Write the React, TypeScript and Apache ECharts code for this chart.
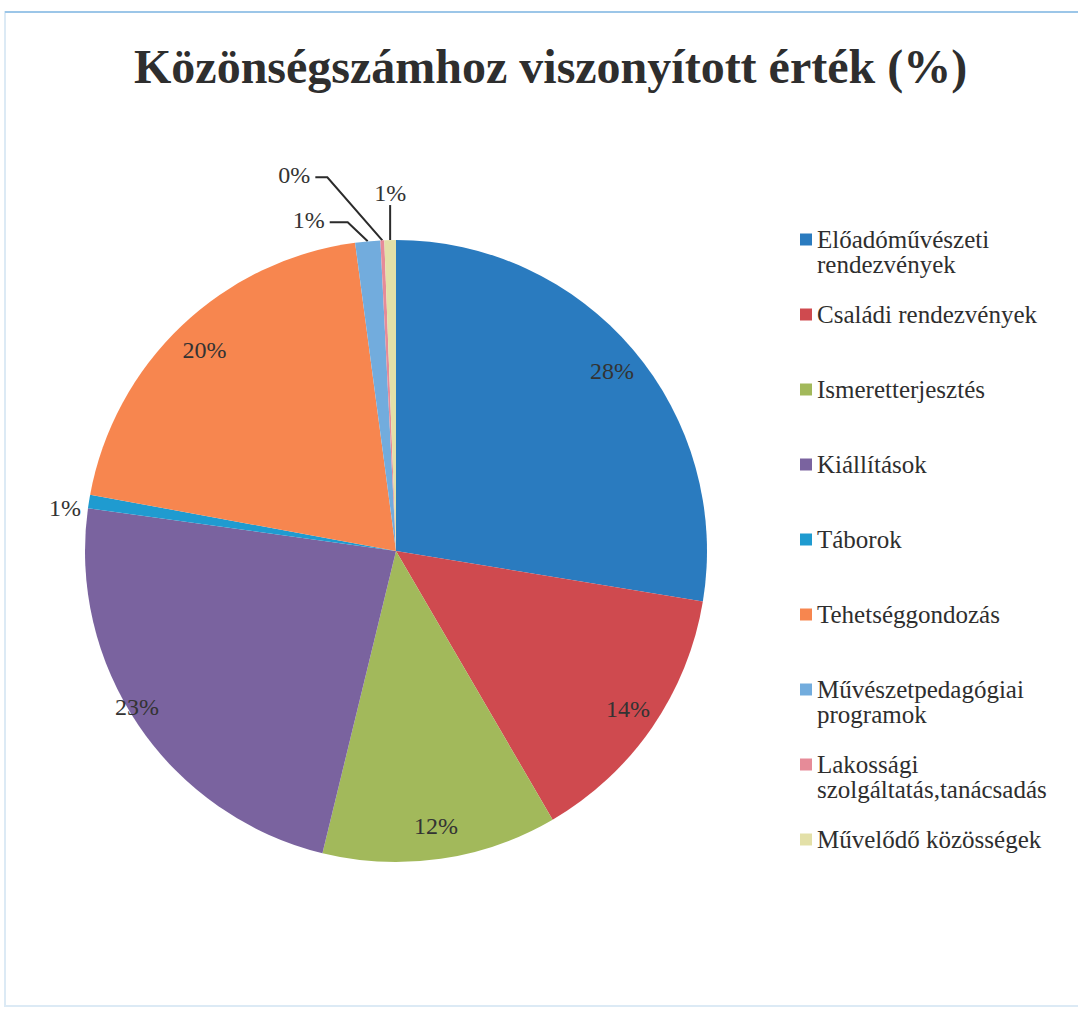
import React, { useEffect, useRef } from 'react';
import * as echarts from 'echarts';

const titleText = 'Közönségszámhoz viszonyított érték (%)';
const categories = [
  'Előadóművészeti rendezvények',
  'Családi rendezvények',
  'Ismeretterjesztés',
  'Kiállítások',
  'Táborok',
  'Tehetséggondozás',
  'Művészetpedagógiai programok',
  'Lakossági szolgáltatás,tanácsadás',
  'Művelődő közösségek',
];
const values = [27.6, 14.0, 12.2, 23.4, 0.7, 20.0, 1.3, 0.2, 0.6];
const colors = ['#2A7BBF', '#CF4A4F', '#A2B95B', '#7A639F', '#1F9BD0', '#F7864F', '#72ACDD', '#E68B98', '#E3E0A8'];
const insideLabel = [true, true, true, true, false, true, false, false, false];

const FONT = '"Liberation Serif", "Times New Roman", serif';
const CENTER = [396, 551];
const R = 311;

export default function App() {
  const ref = useRef<HTMLDivElement>(null);
  useEffect(() => {
    document.body.style.margin = '0';
    const chart = echarts.init(ref.current!, null, { renderer: 'svg' });
    const fmt = (p: any) => Math.round(p.percent) + '%';
    const nudge: Record<number, number[]> = {
      0: [18, 0, 0, 8],
      1: [0, 0, 6, 6],
      2: [18, 0, 0, 0],
      3: [0, 58, 0, 0],
      5: [12, 0, 0, 0],
    };
    const option: any = {
      animation: false,
      backgroundColor: '#ffffff',
      title: {
        text: titleText,
        left: 129,
        top: 37,
        textStyle: { fontFamily: FONT, fontWeight: 'bold', fontSize: 48, color: '#2e2e2e' },
      },
      graphic: [
        { type: 'rect', shape: { x: 5, y: 12, width: 1090, height: 994 }, style: { fill: 'none', stroke: '#DCEAF5', lineWidth: 2 }, silent: true },
        { type: 'line', shape: { x1: 5, y1: 12, x2: 1078, y2: 12 }, style: { stroke: '#9CC6E8', lineWidth: 2 }, silent: true },
      ],
      legend: {
        orient: 'vertical',
        left: 800,
        top: 202,
        padding: 0,
        itemGap: 0,
        itemWidth: 12,
        itemHeight: 12,
        icon: 'rect',
        data: categories,
        textStyle: { fontFamily: FONT, fontSize: 25, lineHeight: 25, color: '#2e2e2e' },
        formatter: (name: string) => {
          if (name.length > 22) {
            const k = name.indexOf(' ');
            return '\n' + name.slice(0, k) + '\n' + name.slice(k + 1);
          }
          return '\n' + name + '\n';
        },
      },
      series: [
        {
          type: 'pie',
          center: CENTER,
          radius: R,
          startAngle: 90,
          clockwise: true,
          avoidLabelOverlap: false,
          silent: true,
          itemStyle: { borderWidth: 0 },
          label: { show: true, position: 'outside', formatter: fmt, fontFamily: FONT, fontSize: 24, color: '#333333' },
          labelLine: { show: true, length: 20, length2: 10, lineStyle: { color: '#2b2b2b', width: 2 } },
          data: categories.map((n, i) => ({
            name: n,
            value: values[i],
            itemStyle: { color: colors[i] },
            label: { show: !insideLabel[i] },
            labelLine: i === 4 ? { show: false, length: 0, length2: 0 } : { show: !insideLabel[i] },
          })),
          labelLayout: (params: any) => {
            const i = params.dataIndex;
            if (i === 4) return { dx: -3, dy: 7 };
            const pts = params.labelLinePoints;
            if (!pts) return {};
            const p0 = pts[0];
            if (i === 6) {
              const p1 = [p0[0] - 20, p0[1] - 19];
              const p2 = [p1[0] - 18, p1[1]];
              return { x: p2[0] - 5, y: p2[1] - 2, align: 'right', verticalAlign: 'middle', labelLinePoints: [p0, p1, p2] };
            }
            if (i === 7) {
              const p1 = [p0[0] - 55, p0[1] - 63];
              const p2 = [p1[0] - 12, p1[1]];
              return { x: p2[0] - 5, y: p2[1] - 2, align: 'right', verticalAlign: 'middle', labelLinePoints: [p0, p1, p2] };
            }
            if (i === 8) {
              const p1 = [p0[0], p0[1] - 35];
              return { x: p1[0], y: p1[1] - 12, align: 'center', verticalAlign: 'middle', labelLinePoints: [p0, p1, p1] };
            }
            return {};
          },
        },
        {
          type: 'pie',
          center: CENTER,
          radius: [R - 72, R],
          startAngle: 90,
          clockwise: true,
          silent: true,
          avoidLabelOverlap: false,
          itemStyle: { color: 'rgba(0,0,0,0)', borderWidth: 0 },
          label: { show: true, position: 'inside', formatter: fmt, fontFamily: FONT, fontSize: 24, color: '#333333', textBorderWidth: 0 },
          labelLine: { show: false },
          data: categories.map((n, i) => ({
            name: n,
            value: values[i],
            label: { show: insideLabel[i], padding: nudge[i] || 0 },
          })),
        },
      ],
    };
    chart.setOption(option);
    return () => chart.dispose();
  }, []);
  return <div ref={ref} style={{ width: 1078, height: 1010, background: '#fff' }} />;
}
